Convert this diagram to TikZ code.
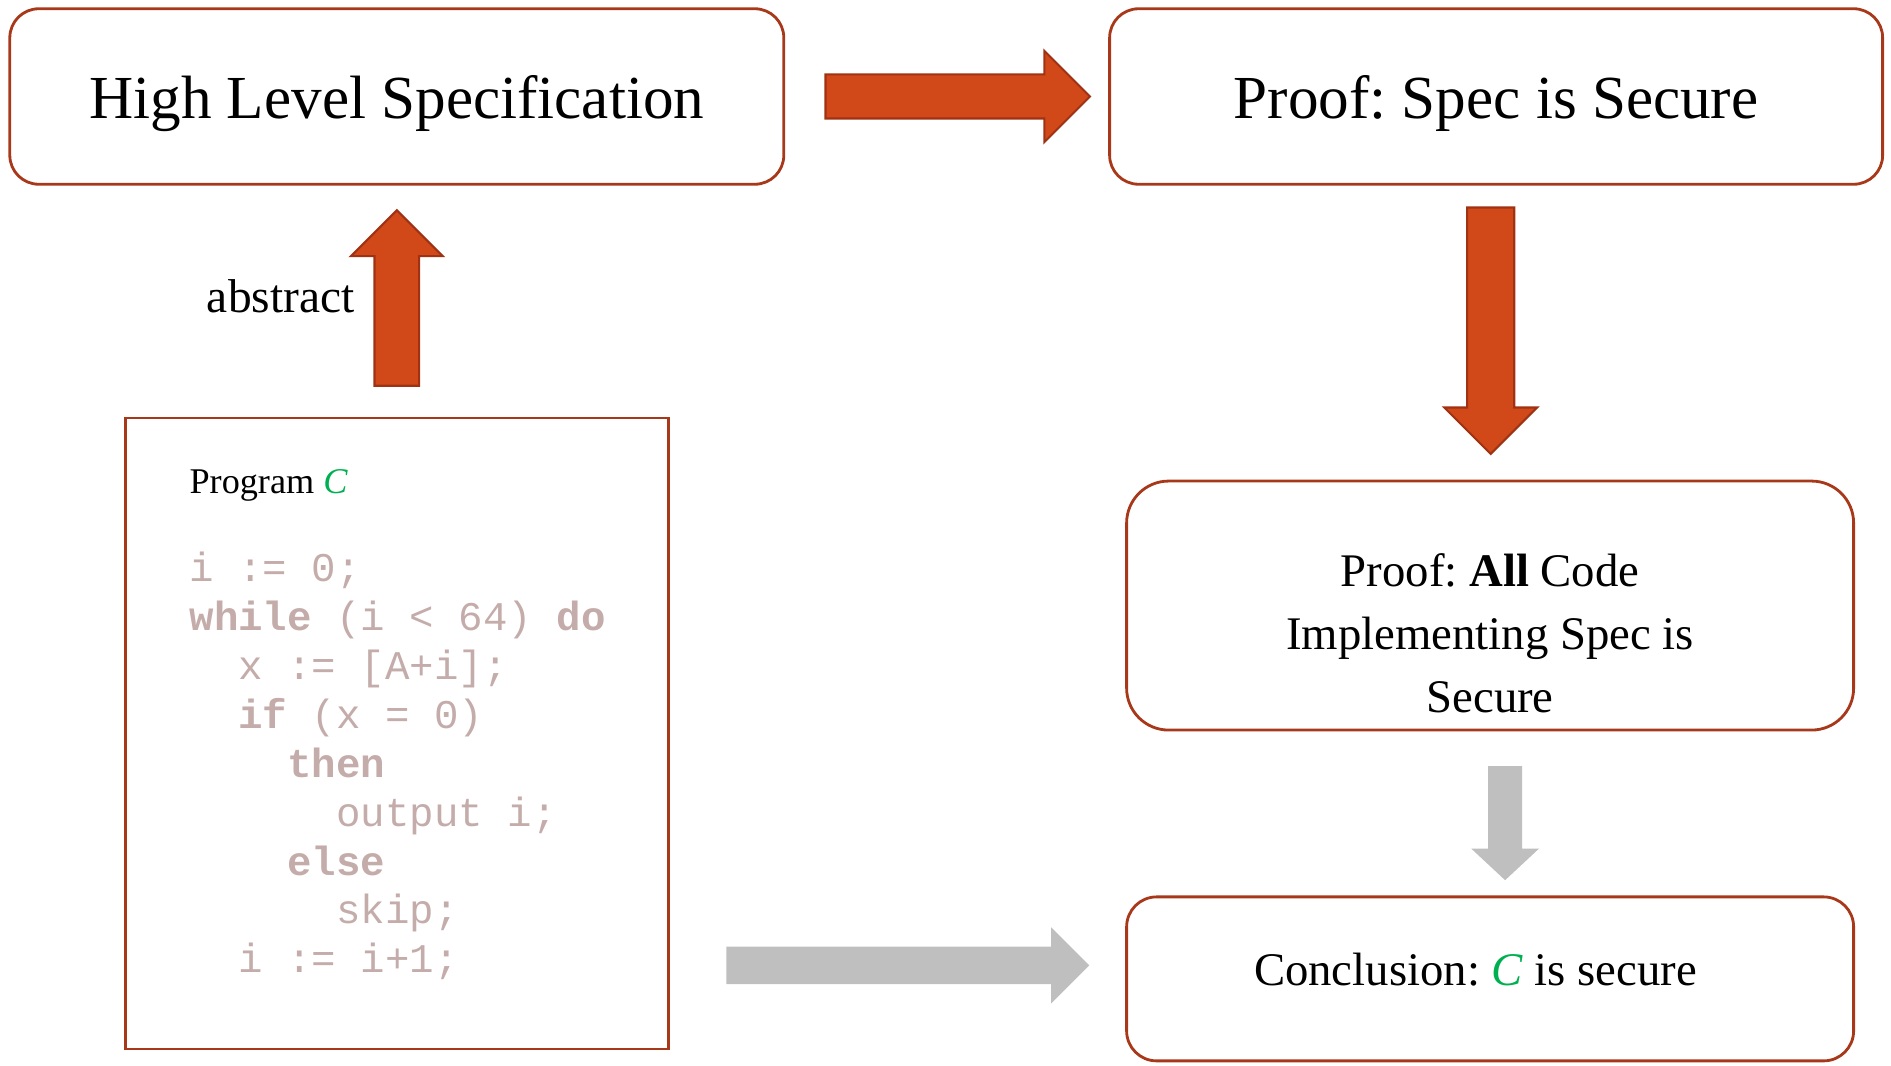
\documentclass[tikz,border=0pt]{standalone}
\usepackage{fontspec}
\setmainfont{Liberation Serif}
\setmonofont{Liberation Mono}
\frenchspacing
\usetikzlibrary{shapes.arrows, positioning, calc}
\definecolor{boxline}{RGB}{168,56,26}
\definecolor{arrowfill}{RGB}{209,73,25}
\definecolor{arrowline}{RGB}{160,50,20}
\definecolor{flowgray}{RGB}{192,191,192}
\definecolor{progC}{RGB}{0,176,80}
\definecolor{codetext}{RGB}{196,172,170}

\begin{document}
\begin{tikzpicture}[
    stepbox/.style={rounded corners=2.9mm, draw=boxline, line width=0.8pt, align=center},
    bigarrow/.style={single arrow, inner xsep=0pt, inner ysep=2.1mm, single arrow head extend=2.35mm, single arrow head indent=0pt},
    redarrow/.style={bigarrow, draw=arrowline, fill=arrowfill, line width=0.6pt},
    grayarrow/.style={bigarrow, fill=flowgray}
  ]
        \useasboundingbox (-39.68mm,9.65mm) rectangle (149.42mm,-96.85mm);
        % the four boxes
        \node[stepbox, minimum width=77.4mm, minimum height=17.55mm, text depth=0pt, font=\fontsize{17.4}{21}\selectfont] (spec) at (0,0) {High Level Specification};
        \node[stepbox, right=32.3mm of spec, minimum width=77.3mm, minimum height=17.55mm, text depth=0pt, font=\fontsize{17.4}{21}\selectfont] (proof) {Proof: Spec is Secure};
        \node[stepbox, rounded corners=4.2mm, below=29.4mm of proof, xshift=-0.6mm, minimum width=72.7mm, minimum height=24.9mm, font=\fontsize{13.3}{17.9}\selectfont] (allcode) {\rule{0pt}{8.8mm}Proof: \textbf{All} Code\\Implementing Spec is\\Secure};
        \node[stepbox, rounded corners=3mm, below=16.4mm of allcode, minimum width=72.7mm, minimum height=16.4mm, text height=3.2mm, text depth=1.8mm, font=\fontsize{13.3}{15}\selectfont] (concl) {\hspace*{-2.9mm}Conclusion: \textcolor{progC}{\textit{C}} is secure};

        % program box
        \node[draw=boxline, line width=0.8pt, below=23.1mm of spec, minimum width=54.3mm, minimum height=63.1mm] (code) {};
        \node[anchor=base west, inner sep=0pt, font=\fontsize{10.3}{12}\selectfont] (prog) at ($(code.north west)+(6.5mm,-7.7mm)$) {Program \textcolor{progC}{\textit{C}}};
        \node[anchor=north west, inner sep=0pt, align=left, text=codetext, font=\ttfamily\fontsize{11.6}{13.9}\selectfont] (src) at ($(code.north west)+(6.5mm,-13.5mm)$) {%
          i := 0;\\
          \textbf{while} (i < 64) \textbf{do}\\
          ~~x := [A+i];\\
          ~~\textbf{if} (x = 0)\\
          ~~~~\textbf{then}\\
          ~~~~~~output i;\\
          ~~~~\textbf{else}\\
          ~~~~~~skip;\\
          ~~i := i+1;};

        % block arrows
        \node[redarrow, minimum height=26.45mm] (toproof) at ($(spec.east)!0.5!(proof.west)$) {};
        \node[redarrow, rotate=90, minimum height=17.55mm, inner ysep=2.13mm] (abstr) at ($(code.north)!0.5!(spec.south)+(0,-0.8mm)$) {};
        \node[anchor=base east, inner sep=0pt, font=\fontsize{13.5}{16}\selectfont] (abslbl) at ($(abstr.center)+(-4.16mm,-0.3mm)$) {abstract};
        \node[redarrow, rotate=-90, minimum height=24.65mm, inner ysep=2.25mm, single arrow head extend=2.29mm] (todown) at ($(proof.south)!0.5!(allcode.north)+(-0.24mm,1.37mm)$) {};
        \node[grayarrow, rotate=-90, minimum height=11.4mm, inner ysep=1.63mm, single arrow head extend=1.68mm, single arrow tip angle=94] (toconcl) at ($(allcode.south)!0.5!(concl.north)+(1.5mm,-0.18mm)$) {};
        \node[grayarrow, minimum height=36.3mm, inner ysep=1.8mm, single arrow head extend=1.94mm] (fromcode) at ($(code.east |- concl.west)!0.5!(concl.west)+(0.1mm,1.35mm)$) {};
\end{tikzpicture}
\end{document}
